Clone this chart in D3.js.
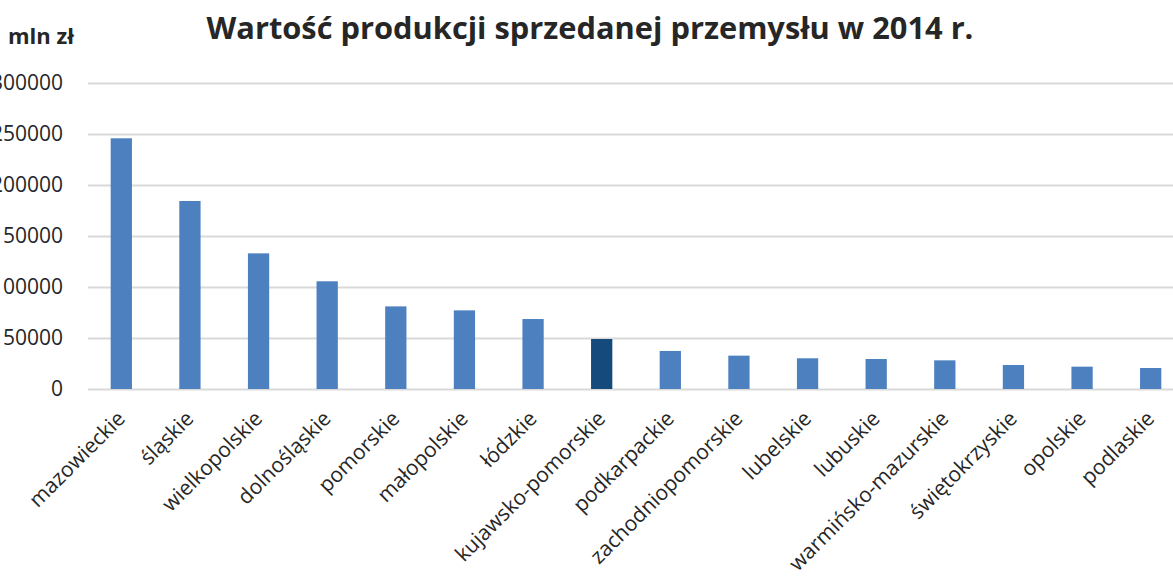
<!DOCTYPE html>
<html>
<head>
<meta charset="utf-8">
<script src="https://cdn.jsdelivr.net/npm/d3@7"></script>
<style>
  body { margin: 0; background: #fff; }
  svg text { font-family: "Open Sans", sans-serif; fill: #262626; }
</style>
</head>
<body>
<svg id="chart" width="1173" height="581"></svg>
<script>
// województwa, in chart order
var regions = ["mazowieckie", "śląskie", "wielkopolskie", "dolnośląskie", "pomorskie",
               "małopolskie", "łódzkie", "kujawsko-pomorskie", "podkarpackie",
               "zachodniopomorskie", "lubelskie", "lubuskie", "warmińsko-mazurskie",
               "świętokrzyskie", "opolskie", "podlaskie"];
// mln zł
var values = [245800, 184300, 133000, 105600, 81000, 77100, 68600, 49000, 37300,
              32700, 30100, 29400, 28100, 23500, 21900, 20600];
var highlight = "kujawsko-pomorskie";
var yTicks = [0, 50000, 100000, 150000, 200000, 250000, 300000];

var svg = d3.select("#chart");

// plot area runs past the right edge of the picture, like in the original
var x = d3.scaleBand().domain(regions).range([87, 1185]).paddingInner(0.69).paddingOuter(0.345);
var y = d3.scaleLinear().domain([0, 300000]).range([389, 83]);

// grid
svg.append("g")
    .selectAll("line")
    .data(yTicks)
    .join("line")
    .attr("x1", 88).attr("x2", 1173)
    .attr("y1", function(d) { return Math.round(y(d)) + 0.5; })
    .attr("y2", function(d) { return Math.round(y(d)) + 0.5; })
    .attr("stroke", "#d9d9d9")
    .attr("stroke-width", 2);

// y axis labels (left ones are cut by the edge, as in the source)
var yAxis = svg.append("g")
    .attr("transform", "translate(88,0)")
    .call(d3.axisLeft(y).tickValues(yTicks).tickSize(0).tickPadding(25).tickFormat(d3.format("d")));
yAxis.select(".domain").remove();
yAxis.selectAll("text")
    .style("font-family", "'Open Sans', sans-serif")
    .style("font-size", "21px")
    .attr("fill", "#262626");

// bars
svg.append("g")
    .selectAll("rect")
    .data(regions)
    .join("rect")
    .attr("x", function(d) { return x(d); })
    .attr("width", x.bandwidth())
    .attr("y", function(d, i) { return y(values[i]); })
    .attr("height", function(d, i) { return y(0) - y(values[i]); })
    .attr("fill", function(d) { return d === highlight ? "#154a7d" : "#4d80bf"; });

// category labels, rotated
var xAxis = svg.append("g")
    .attr("transform", "translate(0,389)")
    .call(d3.axisBottom(x).tickSize(0).tickPadding(0));
xAxis.select(".domain").remove();
xAxis.selectAll("text")
    .style("font-family", "'Open Sans', sans-serif")
    .style("font-size", "21px")
    .attr("fill", "#262626")
    .attr("text-anchor", "end")
    .attr("dy", null)
    .attr("transform", "translate(5,31) rotate(-45)");

// title + unit
svg.append("text")
    .attr("x", 590).attr("y", 39)
    .attr("text-anchor", "middle")
    .style("font-size", "30.8px")
    .style("font-weight", "bold")
    .text("Wartość produkcji sprzedanej przemysłu w 2014 r.");

svg.append("text")
    .attr("x", 8).attr("y", 44)
    .style("font-size", "22px")
    .style("font-weight", "bold")
    .text("mln zł");
</script>
</body>
</html>
